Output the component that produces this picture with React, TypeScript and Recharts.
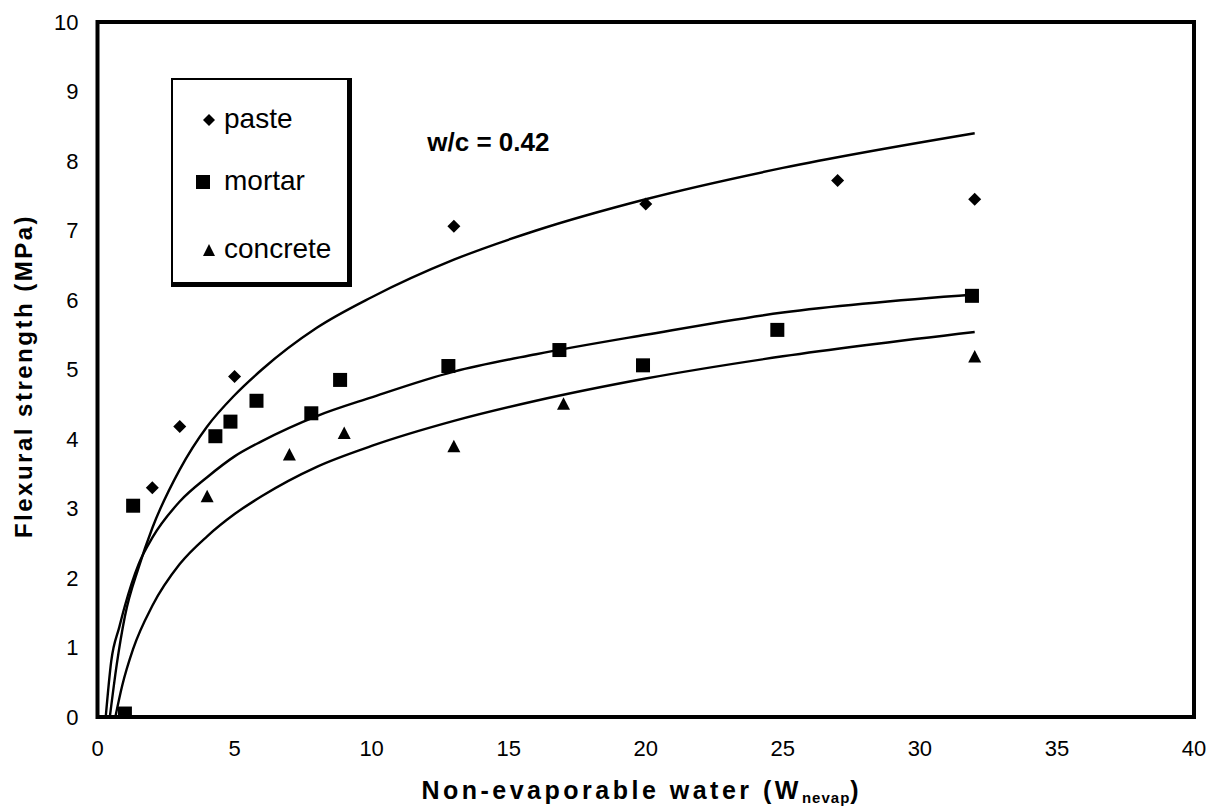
import React from 'react';
import {
  ComposedChart,
  XAxis,
  YAxis,
  Line,
  Scatter,
  ReferenceArea,
  ReferenceDot,
  Legend,
} from 'recharts';

const FONT = "'Liberation Sans', Arial, Helvetica, sans-serif";

// axis ticks
const xTicks = [0, 5, 10, 15, 20, 25, 30, 35, 40];
const yTicks = [0, 1, 2, 3, 4, 5, 6, 7, 8, 9, 10];

// measured points
const pasteX = [1, 2, 3, 5, 13, 20, 27, 32];
const pasteY = [0, 3.3, 4.18, 4.9, 7.06, 7.38, 7.72, 7.45];
const mortarX = [1, 1.3, 4.3, 4.85, 5.8, 7.8, 8.85, 12.8, 16.85, 19.9, 24.8, 31.9];
const mortarY = [0.05, 3.04, 4.04, 4.25, 4.55, 4.37, 4.85, 5.05, 5.28, 5.06, 5.57, 6.06];
const concreteX = [1, 4, 7, 9, 13, 17, 32];
const concreteY = [0, 3.17, 3.77, 4.08, 3.89, 4.5, 5.18];

// trend curves
const pasteFitX = [0.45, 0.7, 1, 1.5, 2, 3, 4, 5, 6, 8, 10, 13, 16, 20, 25, 32];
const pasteFitY = [0, 0.75, 1.45, 2.15, 2.72, 3.56, 4.18, 4.63, 5.0, 5.6, 6.04, 6.58, 7.0, 7.45, 7.9, 8.4];
const mortarFitX = [0.3, 0.5, 0.8, 1, 1.5, 2, 3, 4, 5, 6, 8, 10, 13, 16, 20, 25, 32];
const mortarFitY = [0, 0.8, 1.3, 1.6, 2.2, 2.58, 3.1, 3.45, 3.75, 3.97, 4.33, 4.6, 4.97, 5.22, 5.5, 5.82, 6.08];
const concreteFitX = [0.65, 0.9, 1.3, 2, 3, 4, 5, 6, 8, 10, 13, 16, 20, 25, 32];
const concreteFitY = [0, 0.45, 0.98, 1.6, 2.2, 2.6, 2.92, 3.18, 3.6, 3.9, 4.26, 4.55, 4.87, 5.19, 5.54];

const seriesNames = ['paste', 'mortar', 'concrete'];
const annotation = 'w/c = 0.42';
const xTitle = 'Non-evaporable water (W';
const xTitleSub = 'nevap';
const yTitle = 'Flexural strength (MPa)';

const zip = (xs: number[], ys: number[]) => xs.map((x, i) => ({ x, y: ys[i] }));

const pasteData = zip(pasteX, pasteY);
const mortarData = zip(mortarX, mortarY);
const concreteData = zip(concreteX, concreteY);
const pasteFit = zip(pasteFitX, pasteFitY);
const mortarFit = zip(mortarFitX, mortarFitY);
const concreteFit = zip(concreteFitX, concreteFitY);

const DiamondShape = (props: any) => {
  const { cx, cy } = props;
  if (cx == null || cy == null) return null;
  const r = 6.5;
  return (
    <polygon
      points={`${cx},${cy - r} ${cx + r},${cy} ${cx},${cy + r} ${cx - r},${cy}`}
      fill="#000"
    />
  );
};

const SquareShape = (props: any) => {
  const { cx, cy } = props;
  if (cx == null || cy == null) return null;
  const s = 14;
  return <rect x={cx - s / 2} y={cy - s / 2} width={s} height={s} fill="#000" />;
};

const TriangleShape = (props: any) => {
  const { cx, cy } = props;
  if (cx == null || cy == null) return null;
  return (
    <polygon
      points={`${cx},${cy - 7} ${cx + 6.5},${cy + 5.5} ${cx - 6.5},${cy + 5.5}`}
      fill="#000"
    />
  );
};

const legendIcon = (name: string) => {
  if (name === 'paste')
    return (
      <svg width={16} height={16} style={{ position: 'absolute', left: 28, top: -8 }}>
        <polygon points="8,2 14,8 8,14 2,8" fill="#000" />
      </svg>
    );
  if (name === 'mortar')
    return (
      <svg width={16} height={16} style={{ position: 'absolute', left: 22, top: -8 }}>
        <rect x={1} y={1} width={14} height={14} fill="#000" />
      </svg>
    );
  return (
    <svg width={16} height={16} style={{ position: 'absolute', left: 28, top: -8 }}>
      <polygon points="8,2 14,14 2,14" fill="#000" />
    </svg>
  );
};

const itemTops = [42, 104, 172];

const LegendBox = (props: any) => {
  const payload: any[] = (props && props.payload) || [];
  const names = payload
    .map((p) => p.value)
    .filter((v: any) => seriesNames.includes(v));
  const list = names.length ? names : seriesNames;
  return (
    <div
      style={{
        position: 'relative',
        width: 181,
        height: 209,
        boxSizing: 'border-box',
        borderStyle: 'solid',
        borderColor: '#000',
        borderWidth: '2px 5px 5px 2px',
        background: '#fff',
        fontFamily: FONT,
      }}
    >
      {list.map((name: string) => {
        const idx = seriesNames.indexOf(name);
        return (
          <div
            key={name}
            style={{ position: 'absolute', left: 0, top: itemTops[idx] - 2, width: '100%', height: 0 }}
          >
            {legendIcon(name)}
            <span
              style={{
                position: 'absolute',
                left: 51,
                top: -17,
                fontSize: 28,
                lineHeight: '32px',
                color: '#000',
                whiteSpace: 'nowrap',
              }}
            >
              {name}
            </span>
          </div>
        );
      })}
    </div>
  );
};

const XTitle = (props: any) => {
  const vb = props.viewBox || {};
  const cx = (vb.x || 0) + (vb.width || 0) / 2 - 4;
  const y = (vb.y || 0) + 82;
  return (
    <text
      x={cx}
      y={y}
      textAnchor="middle"
      fontFamily={FONT}
      fontWeight="bold"
      fontSize={25}
      letterSpacing={3.5}
      fill="#000"
    >
      {xTitle}
      <tspan fontSize={15} letterSpacing={1} dy={4}>
        {xTitleSub}
      </tspan>
      <tspan dy={-4}>)</tspan>
    </text>
  );
};

const YTitle = (props: any) => {
  const x = 23.5;
  const y = 368;
  return (
    <text
      x={x}
      y={y}
      transform={`rotate(-90 ${x} ${y})`}
      textAnchor="middle"
      fontFamily={FONT}
      fontWeight="bold"
      fontSize={24}
      letterSpacing={2.5}
      fill="#000"
    >
      {yTitle}
    </text>
  );
};

const AnnotationLabel = (props: any) => {
  const vb = props.viewBox || {};
  const x = vb.cx != null ? vb.cx : vb.x;
  const y = vb.cy != null ? vb.cy : vb.y;
  return (
    <text
      x={x}
      y={y}
      dy={9}
      textAnchor="start"
      fontFamily={FONT}
      fontWeight="bold"
      fontSize={26}
      fill="#000"
    >
      {annotation}
    </text>
  );
};

export default function App() {
  const tickStyle = { fill: '#000', fontSize: 22, fontFamily: FONT };
  return (
    <div style={{ width: 1209, height: 801, background: '#fff' }}>
      <ComposedChart
        width={1209}
        height={801}
        margin={{ top: 14, right: 23, bottom: 0, left: 0 }}
      >
        <XAxis
          dataKey="x"
          type="number"
          domain={[0, 40]}
          ticks={xTicks}
          interval={0}
          axisLine={false}
          tickLine={false}
          tickSize={0}
          tickMargin={23}
          height={92}
          tick={tickStyle}
          allowDataOverflow
          label={<XTitle />}
        />
        <YAxis
          dataKey="y"
          type="number"
          domain={[0, 10]}
          ticks={yTicks}
          interval={0}
          axisLine={false}
          tickLine={false}
          tickSize={0}
          tickMargin={19}
          width={89.5}
          tick={tickStyle}
          allowDataOverflow
          label={<YTitle />}
        />
        <ReferenceArea
          x1={0}
          x2={40}
          y1={0}
          y2={10}
          fill="none"
          fillOpacity={0}
          stroke="#000"
          strokeWidth={4}
          ifOverflow="visible"
        />
        <Line
          data={pasteFit}
          dataKey="y"
          type="monotone"
          stroke="#000"
          strokeWidth={2.4}
          dot={false}
          activeDot={false}
          legendType="none"
          isAnimationActive={false}
        />
        <Line
          data={mortarFit}
          dataKey="y"
          type="monotone"
          stroke="#000"
          strokeWidth={2.4}
          dot={false}
          activeDot={false}
          legendType="none"
          isAnimationActive={false}
        />
        <Line
          data={concreteFit}
          dataKey="y"
          type="monotone"
          stroke="#000"
          strokeWidth={2.4}
          dot={false}
          activeDot={false}
          legendType="none"
          isAnimationActive={false}
        />
        <Scatter
          name="paste"
          data={pasteData}
          dataKey="y"
          fill="#000"
          shape={DiamondShape}
          isAnimationActive={false}
        />
        <Scatter
          name="mortar"
          data={mortarData}
          dataKey="y"
          fill="#000"
          shape={SquareShape}
          isAnimationActive={false}
        />
        <Scatter
          name="concrete"
          data={concreteData}
          dataKey="y"
          fill="#000"
          shape={TriangleShape}
          isAnimationActive={false}
        />
        <ReferenceDot
          x={12.03}
          y={8.27}
          r={0}
          fill="none"
          stroke="none"
          ifOverflow="visible"
          label={<AnnotationLabel />}
        />
        <Legend
          layout="vertical"
          align="center"
          verticalAlign="middle"
          content={<LegendBox />}
          wrapperStyle={{ left: 163, top: 70, width: 181, height: 209, right: 'auto', bottom: 'auto' }}
        />
      </ComposedChart>
    </div>
  );
}
